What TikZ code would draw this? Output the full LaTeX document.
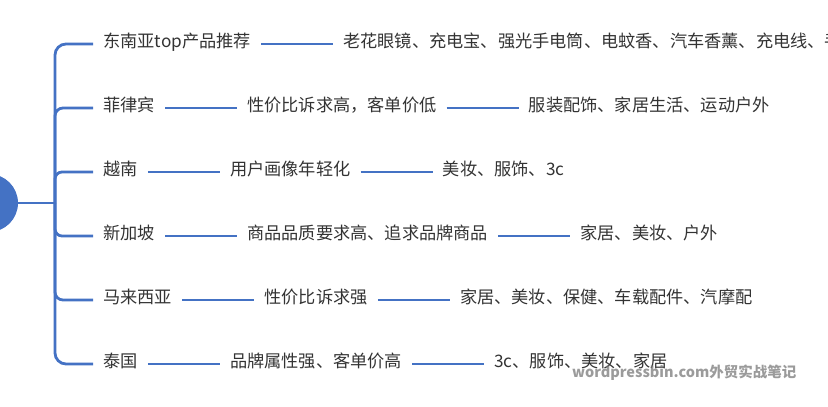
\documentclass[tikz,border=0pt]{standalone}
\usepackage{fontspec}
\setmainfont{Noto Sans CJK SC}
\usetikzlibrary{positioning}
\definecolor{lineblue}{HTML}{4472C4}
\definecolor{txt}{HTML}{333333}
\definecolor{wmgray}{HTML}{7A7A7A}
\tikzset{
  br/.style={draw=lineblue, line width=2.8pt},
  lbl/.style={font=\fontsize{17.2}{20}\selectfont, text=txt, inner xsep=10pt, inner ysep=0pt,
    anchor=west, text height=0.88em, text depth=0.12em},
  nxt/.style={lbl, right=72pt of #1},
}
\begin{document}
\begin{tikzpicture}[x=1pt,y=-1pt]
\useasboundingbox (0,0) rectangle (828,407);
\clip (0,0) rectangle (828,407);
\node[circle, fill=lineblue, minimum size=58pt, inner sep=0pt] (root) at (-11,203) {};
\coordinate (hub) at (55,203);
\draw[br] (root.east) -- (hub);
% first-level nodes
\node[lbl] (a1) at (93,44) {东南亚top产品推荐};
\node[lbl] (b1) at (93,108) {菲律宾};
\node[lbl] (c1) at (93,172) {越南};
\node[lbl] (d1) at (93,236) {新加坡};
\node[lbl] (e1) at (93,300) {马来西亚};
\node[lbl] (f1) at (93,364) {泰国};
% branches
\draw[br, rounded corners=11pt] (hub) |- (a1.west);
\draw[br, rounded corners=8pt] (hub) |- (b1.west);
\draw[br, rounded corners=7pt] (hub) |- (c1.west);
\draw[br, rounded corners=7pt] (hub) |- (d1.west);
\draw[br, rounded corners=8pt] (hub) |- (e1.west);
\draw[br, rounded corners=11pt] (hub) |- (f1.west);
% second and third levels
\node[nxt=a1] (a2) {老花眼镜、充电宝、强光手电筒、电蚊香、汽车香薰、充电线、手};
\draw[br] (a1.east) -- (a2.west);
\node[nxt=b1] (b2) {性价比诉求高，客单价低};
\node[nxt=b2] (b3) {服装配饰、家居生活、运动户外};
\draw[br] (b1.east) -- (b2.west);
\draw[br] (b2.east) -- (b3.west);
\node[nxt=c1] (c2) {用户画像年轻化};
\node[nxt=c2] (c3) {美妆、服饰、3c};
\draw[br] (c1.east) -- (c2.west);
\draw[br] (c2.east) -- (c3.west);
\node[nxt=d1] (d2) {商品品质要求高、追求品牌商品};
\node[nxt=d2] (d3) {家居、美妆、户外};
\draw[br] (d1.east) -- (d2.west);
\draw[br] (d2.east) -- (d3.west);
\node[nxt=e1] (e2) {性价比诉求强};
\node[nxt=e2] (e3) {家居、美妆、保健、车载配件、汽摩配};
\draw[br] (e1.east) -- (e2.west);
\draw[br] (e2.east) -- (e3.west);
\node[nxt=f1] (f2) {品牌属性强、客单价高};
\node[nxt=f2] (f3) {3c、服饰、美妆、家居};
\draw[br] (f1.east) -- (f2.west);
\draw[br] (f2.east) -- (f3.west);
% watermark
\node[font=\bfseries\fontsize{14.5}{15}\selectfont, text=wmgray, opacity=0.75, anchor=west, inner sep=0pt] (wm) at (572,373) {wordpressbin.com外贸实战笔记};
\end{tikzpicture}
\end{document}
